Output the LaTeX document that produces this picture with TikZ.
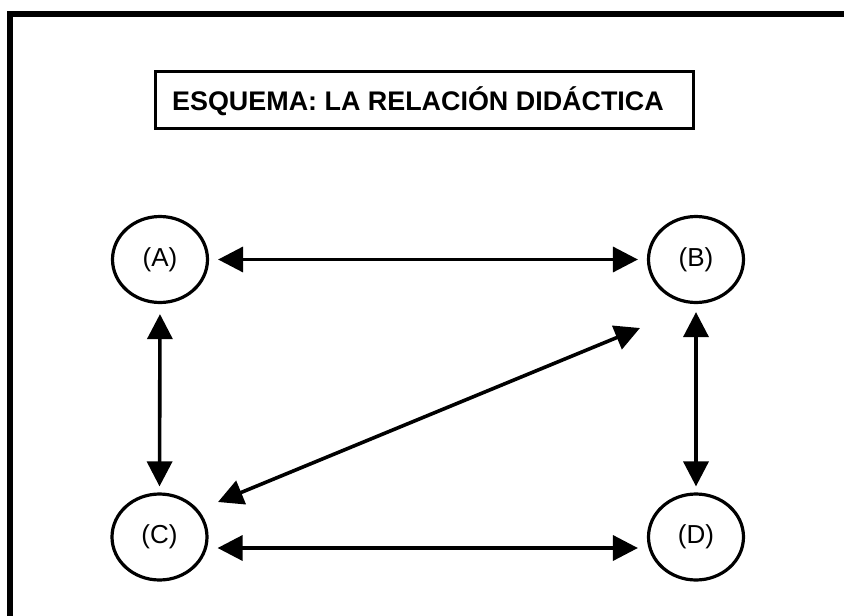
\documentclass[tikz,border=0pt]{standalone}
\usepackage{fontspec}
\setmainfont{Liberation Sans}
\usetikzlibrary{arrows.meta,shapes.geometric}
\begin{document}
\begin{tikzpicture}[x=1pt,y=-1pt,
  frameline/.style={line width=6pt},
  titlebox/.style={draw,line width=3pt,minimum width=538pt,minimum height=57pt,inner sep=0pt},
  titletext/.style={font=\fontsize{26.9}{30}\selectfont\bfseries,inner sep=0pt},
  bubble/.style={draw,ellipse,line width=3.2pt,minimum width=95pt,minimum height=86pt,inner sep=0pt,
    font=\fontsize{26}{28}\selectfont},
  arr/.style={line width=3.6pt,{Triangle[length=25pt,width=25pt]}-{Triangle[length=25pt,width=25pt]}}
]
\useasboundingbox (0,0) rectangle (844,616);
\begin{scope}
\clip (0,0) rectangle (844,616);
\draw[frameline] (10,14) rectangle (900,700);
\end{scope}

\node[titlebox] (title) at (424.5,100) {};
\node[titletext] (titlelabel) at (418,101) {ESQUEMA: LA RELACIÓN DIDÁCTICA};

\node[bubble] (A) at (160,259.5) {(A)};
\node[bubble] (B) at (696,259.5) {(B)};
\node[bubble] (C) at (159.5,537) {(C)};
\node[bubble] (D) at (696,537) {(D)};

\draw[arr,shorten <=9pt,shorten >=9pt] (A.east) -- (B.west);
\draw[arr,shorten <=9pt,shorten >=9pt] ([yshift=-11pt]C.east) -- ([yshift=-11pt]D.west);
\draw[arr,shorten <=10pt,shorten >=6pt] (A.south) -- (C.north);
\draw[arr,shorten <=8pt,shorten >=6pt] (B.south) -- (D.north);
\coordinate (dc) at (218,502);
\coordinate (db) at (640,328);
\draw[arr] (dc) -- (db);
\end{tikzpicture}
\end{document}
